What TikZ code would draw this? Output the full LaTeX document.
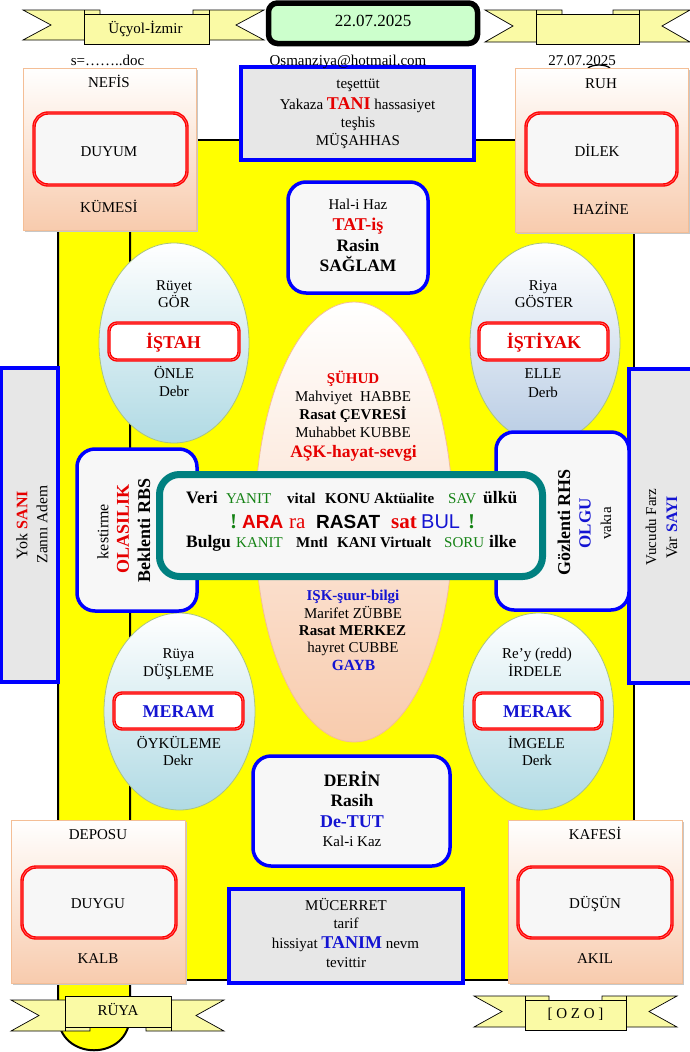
\documentclass[tikz,border=0pt]{standalone}
\usepackage{fontspec}
\setmainfont{Liberation Serif}
\newfontfamily\arialf{Liberation Sans}
\definecolor{yel}{RGB}{255,255,0}
\definecolor{ribf}{RGB}{250,250,165}
\definecolor{datef}{RGB}{204,255,204}
\definecolor{peach}{RGB}{248,203,173}
\definecolor{peachln}{RGB}{244,190,150}
\definecolor{lblue}{RGB}{176,218,228}
\definecolor{lblue2}{RGB}{184,204,228}
\definecolor{elln}{RGB}{170,195,130}
\definecolor{grayf}{RGB}{231,231,231}
\definecolor{paleg}{RGB}{247,247,247}
\definecolor{tealb}{RGB}{0,128,128}
\definecolor{dgreen}{RGB}{20,130,20}
\definecolor{bblue}{RGB}{0,0,255}
\definecolor{tred}{RGB}{230,0,0}
\definecolor{tblue}{RGB}{20,20,210}
\newcommand\fs[1]{\fontsize{#1}{#1}\selectfont}
\newcommand\rbnshape[9]{%
  \draw[ribbonshape] (#1,#5) -- ({#2+#9},#5) -- ({#2+#9},#6) -- (#1,#6) -- ({#1+28},{(#5+#6)/2}) -- cycle;
  \draw[ribbonshape] (#4,#5) -- ({#3-#9},#5) -- ({#3-#9},#6) -- (#4,#6) -- ({#4-28},{(#5+#6)/2}) -- cycle;
  \draw[line width=0.7pt] (#2,#5) -- (#2,#7) (#3,#5) -- (#3,#7) (#2,#6) -- (#2,#8) (#3,#6) -- (#3,#8);
  \draw[ribbonshape] (#2,#7) rectangle (#3,#8);
}
\tikzset{
 txt/.style={inner sep=0pt, anchor=base, font=\fs{15}},
 rtxt/.style={inner sep=0pt, anchor=center, rotate=90, font=\fs{15}},
 cornerbox/.style={draw=peachln, line width=0.8pt, top color=white, bottom color=peach},
 cshadow/.style={fill=black!22},
 redbox/.style={draw=red, line width=1.4pt, double=red!55, double distance=0.6pt, fill=paleg},
 graybox/.style={draw=bblue, line width=3.5pt, fill=grayf},
 roundbox/.style={draw=bblue, line width=3.5pt, fill=paleg, rounded corners=18pt},
 ell/.style={draw=elln, line width=0.8pt, top color=white},
 ribbonshape/.style={draw=black, line width=0.7pt, fill=ribf},
}
\begin{document}
\begin{tikzpicture}[x=1pt,y=-1pt]
\useasboundingbox (0,0) rectangle (689,1052);
\fill[white] (0,0) rectangle (689,1052);

% yellow body and pipe
\draw[fill=yel, line width=2.2pt] (58,140) rectangle (634,980);
\draw[fill=yel, line width=2pt] (58,150) -- (58,1015) .. controls (58,1062) and (130,1062) .. (130,1015) -- (130,150);
\draw[line width=1.3pt] (588,68) .. controls (593,64) and (605,64) .. (610,68);

% corner boxes
\fill[cshadow] (25,70) rectangle (198,232);
\draw[cornerbox] (23,68) rectangle (196,230);
\draw[redbox, rounded corners=14pt] (34,113) rectangle (187,185);
\fill[cshadow] (517,70) rectangle (690,234);
\draw[cornerbox] (515,68) rectangle (688,232);
\draw[redbox, rounded corners=14pt] (526,113) rectangle (677,185);
\fill[cshadow] (13,822) rectangle (187,985);
\draw[cornerbox] (11,820) rectangle (185,983);
\draw[redbox, rounded corners=14pt] (22,867) rectangle (176,938);
\fill[cshadow] (510,822) rectangle (684,985);
\draw[cornerbox] (508,820) rectangle (682,983);
\draw[redbox, rounded corners=14pt] (518,867) rectangle (672,938);

% ribbons
\rbnshape{23}{84}{209}{264}{10}{40}{14}{44}{16}
\rbnshape{485}{536}{639}{690}{10}{42}{14}{44}{26}
\rbnshape{11}{65}{171}{224}{1000}{1031}{996}{1027}{25}
\rbnshape{474}{525}{626}{677}{996}{1027}{1000}{1030}{24}

% date box
\draw[rounded corners=9pt, line width=5.5pt, fill=datef] (268.5,3) rectangle (477.5,43.5);

% top and middle boxes
\draw[graybox] (241,67) rectangle (474,160);
\draw[roundbox] (288,182) rectangle (428,293);

% ellipses
\draw[ell, bottom color=lblue] (174,343) ellipse [x radius=75, y radius=100];
\draw[ell, bottom color=lblue2] (545,343) ellipse [x radius=75, y radius=100];
\draw[ell, bottom color=lblue] (179.5,711.5) ellipse [x radius=75.5, y radius=98.5];
\draw[ell, bottom color=lblue] (538.5,711.5) ellipse [x radius=75, y radius=98.5];
\draw[ell, bottom color=peach, draw=peachln] (354,522) ellipse [x radius=99, y radius=220];

\draw[redbox, fill=white, rounded corners=8pt] (109,323) rectangle (239,360);
\draw[redbox, fill=white, rounded corners=8pt] (479,323) rectangle (608,360);
\draw[redbox, fill=white, rounded corners=8pt] (114,693) rectangle (243,729);
\draw[redbox, fill=white, rounded corners=8pt] (474,693) rectangle (602,729);

% side boxes
\draw[graybox] (1.5,368) rectangle (58,682);
\draw[graybox] (629,369) rectangle (692,683);
\draw[roundbox] (77,449) rectangle (197,611);
\draw[roundbox] (496,432) rectangle (629,610);

% central box
\draw[draw=tealb, line width=7pt, fill=paleg, rounded corners=20pt] (159.5,474.5) rectangle (542.5,576.5);

% bottom boxes
\draw[roundbox] (253,756) rectangle (450,866);
\draw[graybox] (229,889) rectangle (463,983);

% ---------- texts ----------
\node[txt] (tdate) at (373,26) {\fs{17}22.07.2025};
\node[txt] (tizm) at (145.5,33) {Üçyol-İzmir};
\node[txt] (tozo) at (575.5,1018) {[ O Z O ]};
\node[txt] (truya) at (118,1015) {RÜYA};
\node[txt] (tdoc) at (107.5,65) {s=……..doc};
\node[txt] (tmail) at (348,65) {Osmanziya@hotmail.com};
\node[txt] (tdate2) at (582,65) {27.07.2025};

\node[txt] (nef1) at (109,87) {NEFİS};
\node[txt] (nef2) at (109,156) {DUYUM};
\node[txt] (nef3) at (109,212) {KÜMESİ};
\node[txt] (ruh1) at (601,88) {RUH};
\node[txt] (ruh2) at (597,156) {DİLEK};
\node[txt] (ruh3) at (601,214) {HAZİNE};
\node[txt] (dep1) at (98,839) {DEPOSU};
\node[txt] (dep2) at (98,908) {DUYGU};
\node[txt] (dep3) at (98,963) {KALB};
\node[txt] (kaf1) at (595,839) {KAFESİ};
\node[txt] (kaf2) at (595,908) {DÜŞÜN};
\node[txt] (kaf3) at (595,963) {AKIL};

\node[txt] (tes1) at (358,88) {teşettüt};
\node[txt] (tes2) at (357.5,109) {Yakaza {\fs{18}\bfseries\color{tred}TANI} hassasiyet};
\node[txt] (tes3) at (358,127) {teşhis};
\node[txt] (tes4) at (358,145) {MÜŞAHHAS};

\node[txt] (hal1) at (358,209) {Hal-i Haz};
\node[txt] (hal2) at (358,230) {\fs{18}\bfseries\color{tred}TAT-iş};
\node[txt] (hal3) at (358,251) {\fs{17.5}\bfseries Rasin};
\node[txt] (hal4) at (358,271) {\fs{17.5}\bfseries SAĞLAM};

\node[txt] (ist1) at (174,290) {Rüyet};
\node[txt] (ist2) at (174,307) {GÖR};
\node[txt] (ist3) at (173.5,348) {\fs{18}\bfseries\color{tred}İŞTAH};
\node[txt] (ist4) at (174,378) {ÖNLE};
\node[txt] (ist5) at (174,396) {Debr};

\node[txt] (isy1) at (543,290) {Riya};
\node[txt] (isy2) at (544,307) {GÖSTER};
\node[txt] (isy3) at (544,348) {\fs{18}\bfseries\color{tred}İŞTİYAK};
\node[txt] (isy4) at (543,378) {ELLE};
\node[txt] (isy5) at (543,397) {Derb};

\node[txt] (mer1) at (178.5,658) {Rüya};
\node[txt] (mer2) at (178.5,676) {DÜŞLEME};
\node[txt] (mer3) at (178.5,717) {\fs{18}\bfseries\color{tblue}MERAM};
\node[txt] (mer4) at (179,748) {ÖYKÜLEME};
\node[txt] (mer5) at (178,765) {Dekr};

\node[txt] (mrk1) at (537,658) {Re’y (redd)};
\node[txt] (mrk2) at (535,676) {İRDELE};
\node[txt] (mrk3) at (537.5,717) {\fs{18}\bfseries\color{tblue}MERAK};
\node[txt] (mrk4) at (536.5,748) {İMGELE};
\node[txt] (mrk5) at (537,765) {Derk};

\node[txt] (suh1) at (353,383) {\bfseries\color{tred}ŞÜHUD};
\node[txt] (suh2) at (353,401) {Mahviyet\ \ HABBE};
\node[txt] (suh3) at (353,419) {\bfseries Rasat ÇEVRESİ};
\node[txt] (suh4) at (353,437) {Muhabbet KUBBE};
\node[txt] (suh5) at (353.5,457) {\fs{17.5}\bfseries\color{tred}AŞK-hayat-sevgi};
\node[txt] (isk1) at (353,600) {\bfseries\color{tblue}IŞK-şuur-bilgi};
\node[txt] (isk2) at (353,618) {Marifet ZÜBBE};
\node[txt] (isk3) at (352.5,635) {\bfseries Rasat MERKEZ};
\node[txt] (isk4) at (353,652) {hayret CUBBE};
\node[txt] (isk5) at (353.5,670) {\fs{15.5}\bfseries\color{tblue}GAYB};

\node[txt, anchor=base west] (l1) at (186,503) {\makebox[40pt][l]{\fs{17.5}\bfseries Veri}\makebox[61pt][l]{\color{dgreen}YANIT}\makebox[38pt][l]{\bfseries vital}\makebox[49pt][l]{\bfseries KONU}\makebox[74pt][l]{\bfseries Aktüalite}\makebox[35pt][l]{\color{dgreen}SAV}{\fs{17.5}\bfseries ülkü}};
\node[txt, anchor=base west] (l2) at (230,528) {\fs{21}\makebox[12pt][l]{\bfseries\color{dgreen}!}\makebox[47pt][l]{\fs{19}\arialf\bfseries\color{tred}ARA}\makebox[27pt][l]{\color{tred}ra}\makebox[75pt][l]{\fs{19}\arialf\bfseries RASAT}\makebox[30pt][l]{\bfseries\color{tred}sat}\makebox[47pt][l]{\fs{20}\arialf\color{tblue}BUL}{\bfseries\color{dgreen}!}};
\node[txt, anchor=base west] (l3) at (186,547) {\makebox[50pt][l]{\fs{17.5}\bfseries Bulgu}\makebox[60pt][l]{\color{dgreen}KANIT}\makebox[41pt][l]{\bfseries Mntl}\makebox[43pt][l]{\bfseries KANI}\makebox[64pt][l]{\bfseries Virtualt}\makebox[45pt][l]{\color{dgreen}SORU}{\fs{17.5}\bfseries ilke}};

\node[rtxt] (ola1) at (103,531.5) {\fs{16}kestirme};
\node[rtxt] (ola2) at (123,529) {\fs{18}\bfseries\color{tred}OLASILIK};
\node[rtxt] (ola3) at (144,530.5) {\fs{18}\bfseries Beklenti RBS};
\node[rtxt] (olg1) at (564,522.5) {\fs{18}\bfseries Gözlenti RHS};
\node[rtxt] (olg2) at (585,523.5) {\fs{17}\bfseries\color{tblue}OLGU};
\node[rtxt] (olg3) at (606,523.5) {vakıa};
\node[rtxt] (yok1) at (22,525) {\fs{16}Yok {\bfseries\color{tred}SANI}};
\node[rtxt] (yok2) at (42,524.5) {\fs{15.5}Zannı Adem};
\node[rtxt] (var1) at (651,527) {Vucudu Farz};
\node[rtxt] (var2) at (672,527.5) {\fs{16}Var {\bfseries\color{tblue}SAYI}};

\node[txt] (der1) at (352,786) {\fs{17.5}\bfseries DERİN};
\node[txt] (der2) at (352,806) {\fs{17.5}\bfseries Rasih};
\node[txt] (der3) at (352,827) {\fs{18}\bfseries\color{tblue}De-TUT};
\node[txt] (der4) at (352,846) {Kal-i Kaz};

\node[txt] (muc1) at (346,910) {MÜCERRET};
\node[txt] (muc2) at (346,928) {tarif};
\node[txt] (muc3) at (345.5,948) {hissiyat {\fs{18}\bfseries\color{tblue}TANIM} nevm};
\node[txt] (muc4) at (346,967) {tevittir};
\end{tikzpicture}
\end{document}
